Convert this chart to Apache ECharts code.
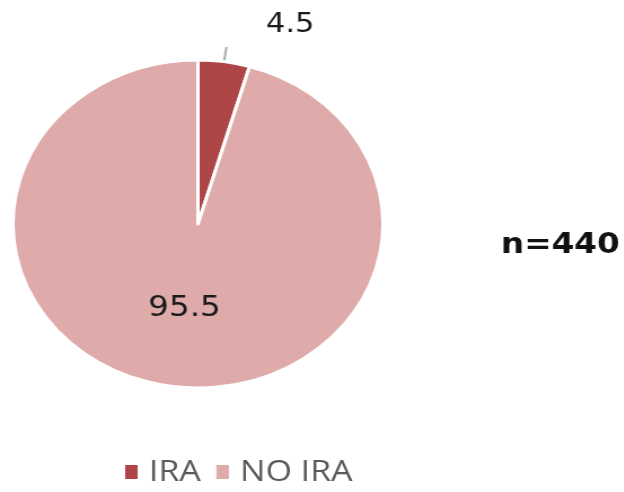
<!DOCTYPE html>
<html>
<head>
<meta charset="utf-8">
<script src="https://cdn.jsdelivr.net/npm/echarts@6/dist/echarts.min.js"></script>
<style>
  html, body { margin: 0; padding: 0; background: #fff; overflow: hidden; }
  /* the original figure is stretched sideways, so the chart is drawn narrower and widened */
  #chart { width: 553px; height: 492px; transform: scaleX(1.128); transform-origin: 0 0; }
</style>
</head>
<body>
<div id="chart"></div>
<script>
// data
var categories = ['IRA', 'NO IRA'];
var values = [4.5, 95.5];
var colors = ['#ae4547', '#dfaaaa'];
var sampleSize = 'n=440';

var myChart = echarts.init(document.getElementById('chart'));

var pieData = [];
for (var i = 0; i < categories.length; i++) {
    pieData.push({ name: categories[i], value: values[i], itemStyle: { color: colors[i] } });
}

// IRA label sits outside, above the end of a short leader; NO IRA inside
pieData[0].label = {
    position: 'outside',
    formatter: '{v|{c}}\n{gap|}',
    padding: [0, 0, 0, 30],
    rich: {
        v: { fontSize: 27, color: '#1a1a1a', fontFamily: 'DejaVu Sans', lineHeight: 30 },
        gap: { lineHeight: 44 }
    }
};
pieData[0].labelLine = {
    show: true,
    length: 15,
    length2: 0,
    lineStyle: { color: '#a6adb4', width: 2 }
};
pieData[1].label = {
    position: 'inside',
    fontSize: 29,
    color: '#1a1a1a'
};
pieData[1].labelLine = { show: false };

var option = {
    animation: false,
    title: {
        text: sampleSize,
        left: 439,
        top: 226,
        textStyle: { fontSize: 29, fontWeight: 'bold', color: '#111', fontFamily: 'DejaVu Sans' }
    },
    legend: {
        data: categories,
        left: 104,
        top: 452,
        icon: 'rect',
        itemWidth: 13,
        itemHeight: 16,
        itemGap: 12,
        textStyle: { fontSize: 30, color: '#595959', fontFamily: 'Open Sans', padding: [0, 0, 0, 4] }
    },
    series: [{
        type: 'pie',
        center: [175.5, 224],
        radius: 164,
        startAngle: 90,
        clockwise: true,
        label: { formatter: '{c}', fontFamily: 'DejaVu Sans' },
        itemStyle: { borderColor: '#fff', borderWidth: 3 },
        emphasis: { disabled: true },
        data: pieData
    }]
};
myChart.setOption(option);
</script>
</body>
</html>
